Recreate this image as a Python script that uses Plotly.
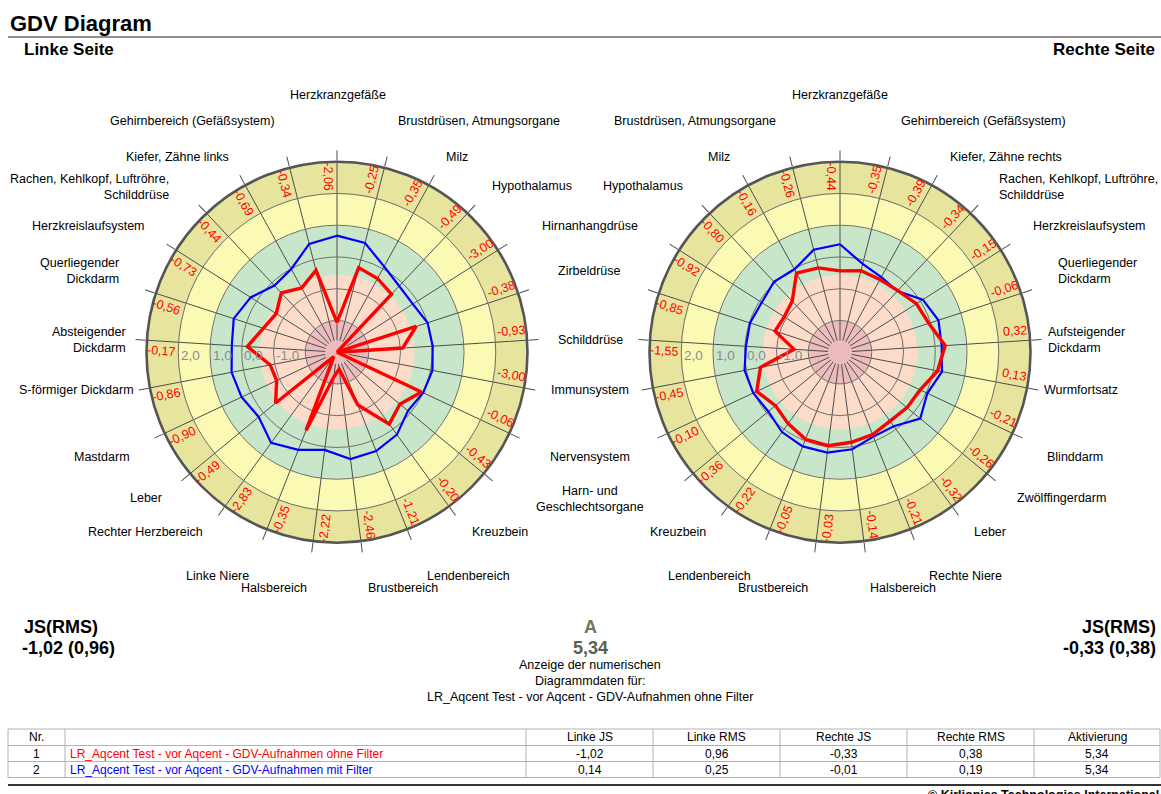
import math
import plotly.graph_objects as go

PAGE_W, PAGE_H = 1161, 794
OFF = 0
FW, FH = PAGE_W - OFF, PAGE_H - OFF

# ---------------- data ----------------
left_categories = [
    "Herzkranzgefäße", "Brustdrüsen, Atmungsorgane", "Milz", "Hypothalamus",
    "Hirnanhangdrüse", "Zirbeldrüse", "Schilddrüse", "Immunsystem", "Nervensystem",
    "Harn- und Geschlechtsorgane", "Kreuzbein", "Lendenbereich", "Brustbereich",
    "Halsbereich", "Linke Niere", "Rechter Herzbereich", "Leber", "Mastdarm",
    "S-förmiger Dickdarm", "Absteigender Dickdarm", "Querliegender Dickdarm",
    "Herzkreislaufsystem", "Rachen, Kehlkopf, Luftröhre, Schilddrüse",
    "Kiefer, Zähne links", "Gehirnbereich (Gefäßsystem)",
]
left_red = [-2.06, -0.25, -0.35, -0.49, -3.00, -0.38, -0.93, -3.00, -0.06, -0.43,
            -0.20, -1.21, -2.46, -2.22, -0.35, -2.83, -0.49, -0.90, -0.86, -0.17,
            -0.56, -0.73, -0.44, -0.69, -0.34]
left_blue = [0.67, 0.55, 0.08, -0.14, -0.17, 0.00, 0.02, 0.06, 0.00, -0.10,
             0.21, 0.35, 0.39, 0.10, 0.31, 0.53, 0.20, 0.32, 0.38, 0.32,
             0.42, 0.22, -0.12, -0.01, 0.52]

right_categories = [
    "Herzkranzgefäße", "Gehirnbereich (Gefäßsystem)", "Kiefer, Zähne rechts",
    "Rachen, Kehlkopf, Luftröhre, Schilddrüse", "Herzkreislaufsystem",
    "Querliegender Dickdarm", "Aufsteigender Dickdarm", "Wurmfortsatz", "Blinddarm",
    "Zwölffingerdarm", "Leber", "Rechte Niere", "Halsbereich", "Brustbereich",
    "Lendenbereich", "Kreuzbein", "Harn- und Geschlechtsorgane", "Nervensystem",
    "Immunsystem", "Schilddrüse", "Zirbeldrüse", "Hirnanhangdrüse", "Hypothalamus",
    "Milz", "Brustdrüsen, Atmungsorgane",
]
right_red = [-0.44, -0.35, -0.39, -0.34, -0.15, -0.06, 0.32, 0.13, -0.21, -0.26,
             -0.32, -0.21, -0.14, -0.03, -0.05, -0.22, -0.36, -0.10, -0.45, -1.55,
             -0.85, -0.92, -0.80, -0.16, -0.26]
right_blue = [0.40, -0.13, -0.30, -0.36, 0.09, 0.26, 0.21, 0.27, 0.04, 0.28,
              -0.12, -0.14, 0.08, 0.19, 0.19, 0.11, -0.07, 0.02, 0.06, -0.03,
              -0.02, -0.08, 0.04, -0.02, 0.33]

radial_ticks = [-2, -1, 0, 1, 2]
radial_tick_labels = ["-1,0", "0,0", "1,0", "2,0"]
radial_label_vals = [-1, 0, 1, 2]

summary_left = ("JS(RMS)", "-1,02 (0,96)")
summary_right = ("JS(RMS)", "-0,33 (0,38)")
activation = ("A", "5,34")

table_header = ["Nr.", "", "Linke JS", "Linke RMS", "Rechte JS", "Rechte RMS", "Aktivierung"]
table_nr = ["1", "2"]
table_names = ["LR_Aqcent Test - vor Aqcent - GDV-Aufnahmen ohne Filter",
               "LR_Aqcent Test - vor Aqcent - GDV-Aufnahmen mit Filter"]
table_left_js = ["-1,02", "0,14"]
table_left_rms = ["0,96", "0,25"]
table_right_js = ["-0,33", "-0,01"]
table_right_rms = ["0,38", "0,19"]
table_activation = ["5,34", "5,34"]

# ---------------- style / layout ----------------
RMIN, RMAX = -3.0, 3.0
band_edges = [-3.0, -2.0, -0.55, 1.0, 2.0, 3.0]
band_colors = ["#ecbcbc", "#fcdcc9", "#c8e6ca", "#fafab4", "#e7e59d"]
RED = "#ff0000"
BLUE = "#0000ff"
FONT = "Liberation Sans, Arial, sans-serif"

R = 190.5
centers = {"left": (337.0, 352.2), "right": (840.0, 352.2)}


def px(x):
    return (x - OFF) / FW


def py(y):
    return 1 - (y - OFF) / FH


def r_px(v):
    return (v - RMIN) / (RMAX - RMIN) * R


def domain(side):
    cx, cy = centers[side]
    return dict(x=[px(cx - R), px(cx + R)], y=[py(cy + R), py(cy - R)])


fig = go.Figure()


def add_chart(cats, red, blue, band_pid, top_pid):
    n = len(cats)
    for lo, hi, col in zip(band_edges[:-1], band_edges[1:], band_colors):
        fig.add_trace(go.Barpolar(
            theta=cats, r=[hi - lo] * n, base=[lo] * n,
            marker=dict(color=col, line=dict(color=col, width=0.8)),
            subplot=band_pid, showlegend=False, hoverinfo="skip"))
    fig.add_trace(go.Scatterpolar(
        theta=[cats[0]], r=[RMIN], mode="markers",
        marker=dict(size=24, color=band_colors[0]),
        subplot=top_pid, showlegend=False, hoverinfo="skip"))
    fig.add_trace(go.Scatterpolar(
        theta=cats + [cats[0]], r=blue + [blue[0]], mode="lines",
        line=dict(color=BLUE, width=2.2), subplot=top_pid, showlegend=False))
    fig.add_trace(go.Scatterpolar(
        theta=cats + [cats[0]], r=red + [red[0]], mode="lines",
        line=dict(color=RED, width=3.4), subplot=top_pid, showlegend=False))


add_chart(left_categories, left_red, left_blue, "polar", "polar2")
add_chart(right_categories, right_red, right_blue, "polar3", "polar4")


def band_polar(side, cats):
    return dict(
        domain=domain(side), bgcolor="rgba(0,0,0,0)", bargap=0,
        angularaxis=dict(type="category", categoryorder="array", categoryarray=cats,
                         direction="clockwise", rotation=90, showgrid=False,
                         showline=False, ticks="", showticklabels=False),
        radialaxis=dict(range=[RMIN, RMAX], showgrid=False, showline=False,
                        ticks="", showticklabels=False),
        barmode="overlay")


def top_polar(side, cats):
    return dict(
        domain=domain(side), bgcolor="rgba(0,0,0,0)",
        angularaxis=dict(type="category", categoryorder="array", categoryarray=cats,
                         direction="clockwise", rotation=90, showgrid=True,
                         gridcolor="#4d4d4d", gridwidth=1, ticks="outside", ticklen=10,
                         tickcolor="#4d4d4d", tickwidth=1, showticklabels=False,
                         showline=True, linecolor="#555555", linewidth=2.6),
        radialaxis=dict(range=[RMIN, RMAX], tickvals=radial_ticks, showgrid=True,
                        gridcolor="#6e6e6e", gridwidth=1, showline=False, ticks="",
                        showticklabels=False))


annotations = []
shapes = []


def ann(x, y, text, size=12.5, color="#000", xanchor="center", yanchor="middle",
        bold=False, angle=0, align="center"):
    if bold:
        text = "<b>" + text + "</b>"
    annotations.append(dict(x=px(x), y=py(y), xref="paper", yref="paper", text=text,
                            showarrow=False, xanchor=xanchor, yanchor=yanchor,
                            textangle=angle, align=align,
                            font=dict(family=FONT, size=size, color=color)))


def hline(x0, x1, y, color, width):
    shapes.append(dict(type="line", xref="paper", yref="paper", x0=px(x0), x1=px(x1),
                       y0=py(y), y1=py(y), line=dict(color=color, width=width)))


def vline(x, y0, y1, color, width):
    shapes.append(dict(type="line", xref="paper", yref="paper", x0=px(x), x1=px(x),
                       y0=py(y0), y1=py(y1), line=dict(color=color, width=width)))


def fmt(v):
    return f"{v:.2f}".replace(".", ",")


# value labels in the outer ring and radial labels
for side, vals in (("left", left_red), ("right", right_red)):
    cx, cy = centers[side]
    n = len(vals)
    for i, v in enumerate(vals):
        theta = i * 360.0 / n
        a = math.radians(theta - 3.2)
        x = cx + 176 * math.sin(a)
        y = cy - 176 * math.cos(a)
        ta = theta - 90 if 0 < theta < 180 else theta - 270
        ta = ((ta + 180) % 360) - 180
        ann(x, y, fmt(v), size=12.5, color=RED, angle=ta)
    for t, lab in zip(radial_label_vals, radial_tick_labels):
        ann(cx - r_px(t) + 0.5, cy + 3, lab, size=13.5, color="#8c8c8c", xanchor="left")

# category labels (placement of the printed report)
label_pos_left = {
    "Herzkranzgefäße": (338, 95, "center"),
    "Brustdrüsen, Atmungsorgane": (479, 121, "center"),
    "Milz": (457, 157, "center"),
    "Hypothalamus": (532, 186, "center"),
    "Hirnanhangdrüse": (590, 226, "center"),
    "Zirbeldrüse": (589, 271, "center"),
    "Schilddrüse": (590, 340, "center"),
    "Immunsystem": (590, 390, "center"),
    "Nervensystem": (590, 457, "center"),
    "Harn- und Geschlechtsorgane": (590, 499, "center"),
    "Kreuzbein": (500, 532, "center"),
    "Lendenbereich": (468, 576, "center"),
    "Brustbereich": (403, 588, "center"),
    "Halsbereich": (274, 588, "center"),
    "Linke Niere": (217, 576, "center"),
    "Rechter Herzbereich": (145, 532, "center"),
    "Leber": (146, 498, "center"),
    "Mastdarm": (102, 457, "center"),
    "S-förmiger Dickdarm": (76, 390, "center"),
    "Absteigender Dickdarm": (128, 340, "right"),
    "Querliegender Dickdarm": (121, 271, "right"),
    "Herzkreislaufsystem": (88, 226, "center"),
    "Rachen, Kehlkopf, Luftröhre, Schilddrüse": (171, 187, "right"),
    "Kiefer, Zähne links": (177, 157, "center"),
    "Gehirnbereich (Gefäßsystem)": (193, 121, "center"),
}
label_pos_right = {
    "Herzkranzgefäße": (840, 95, "center"),
    "Gehirnbereich (Gefäßsystem)": (983, 121, "center"),
    "Kiefer, Zähne rechts": (1006, 157, "center"),
    "Rachen, Kehlkopf, Luftröhre, Schilddrüse": (997, 187, "left"),
    "Herzkreislaufsystem": (1089, 226, "center"),
    "Querliegender Dickdarm": (1056, 271, "left"),
    "Aufsteigender Dickdarm": (1046, 340, "left"),
    "Wurmfortsatz": (1081, 390, "center"),
    "Blinddarm": (1075, 457, "center"),
    "Zwölffingerdarm": (1061, 498, "center"),
    "Leber": (990, 532, "center"),
    "Rechte Niere": (965, 576, "center"),
    "Halsbereich": (903, 588, "center"),
    "Brustbereich": (773, 588, "center"),
    "Lendenbereich": (709, 576, "center"),
    "Kreuzbein": (678, 532, "center"),
    "Hypothalamus": (643, 186, "center"),
    "Milz": (719, 157, "center"),
    "Brustdrüsen, Atmungsorgane": (695, 121, "center"),
}
line_breaks = {
    "Harn- und Geschlechtsorgane": "Harn- und<br>Geschlechtsorgane",
    "Absteigender Dickdarm": "Absteigender<br>Dickdarm",
    "Querliegender Dickdarm": "Querliegender<br>Dickdarm",
    "Aufsteigender Dickdarm": "Aufsteigender<br>Dickdarm",
    "Rachen, Kehlkopf, Luftröhre, Schilddrüse": "Rachen, Kehlkopf, Luftröhre,<br>Schilddrüse",
}
for cats, pos in ((left_categories, label_pos_left), (right_categories, label_pos_right)):
    for c in cats:
        if c not in pos:
            continue  # shared middle labels are printed once
        x, y, anc = pos[c]
        ann(x, y, line_breaks.get(c, c), size=12.5, xanchor=anc, align=anc)

# headings
ann(8, 23, "GDV Diagram", size=22, bold=True, xanchor="left")
hline(8, PAGE_W, 37, "#6a6a6a", 1.5)
ann(22, 50, "Linke Seite", size=17, bold=True, xanchor="left")
ann(1157, 50, "Rechte Seite", size=17, bold=True, xanchor="right")

# summaries
ann(22, 627, summary_left[0], size=18, bold=True, xanchor="left")
ann(20, 648, summary_left[1], size=18, bold=True, xanchor="left")
ann(1158, 627, summary_right[0], size=18, bold=True, xanchor="right")
ann(1158, 648, summary_right[1], size=18, bold=True, xanchor="right")
ann(590, 627, activation[0], size=18, bold=True, color="#6d7862")
ann(590, 648, activation[1], size=18, bold=True, color="#56634e")
ann(590, 665, "Anzeige der numerischen", size=12.5)
ann(590, 681, "Diagrammdaten für:", size=12.5)
ann(590, 697, table_names[0], size=12.5)

# table (drawn as a ruled grid)
col_edges = [8, 65, 526, 653, 780, 907, 1034, 1160]
row_edges = [729, 745.5, 761.5, 777.5]
col_align = ["center", "left", "center", "center", "center", "center", "center"]
columns = [table_nr, table_names, table_left_js, table_left_rms,
           table_right_js, table_right_rms, table_activation]
row_colors = [RED, BLUE]
GRID = "#b3b3b3"
for y in row_edges:
    hline(col_edges[0], col_edges[-1], y, GRID, 1)
for x in col_edges:
    vline(x, row_edges[0], row_edges[-1], GRID, 1)


def cell_x(j):
    if col_align[j] == "left":
        return col_edges[j] + 3, "left"
    return (col_edges[j] + col_edges[j + 1]) / 2, "center"


for j, h in enumerate(table_header):
    x, anc = cell_x(j)
    ann(x, (row_edges[0] + row_edges[1]) / 2, h, size=12, xanchor=anc)
for r in range(len(table_nr)):
    yc = (row_edges[r + 1] + row_edges[r + 2]) / 2
    for j, col in enumerate(columns):
        x, anc = cell_x(j)
        color = row_colors[r] if j == 1 else "#000"
        ann(x, yc, col[r], size=12, xanchor=anc, color=color)

hline(8, PAGE_W, 785, "#333333", 2)
ann(1161, 786, "© Kirlionics Technologies International", size=12.5, bold=True,
    xanchor="right", yanchor="top")

fig.update_layout(
    width=FW, height=FH, margin=dict(l=0, r=0, t=0, b=0),
    paper_bgcolor="white", plot_bgcolor="white", showlegend=False,
    polar=band_polar("left", left_categories),
    polar2=top_polar("left", left_categories),
    polar3=band_polar("right", right_categories),
    polar4=top_polar("right", right_categories),
    annotations=annotations,
    shapes=shapes,
)

fig.write_html(
    "out.html",
    config={"displayModeBar": False},
    post_script="document.body.style.margin='0';"
                "document.documentElement.style.overflow='hidden';",
)
